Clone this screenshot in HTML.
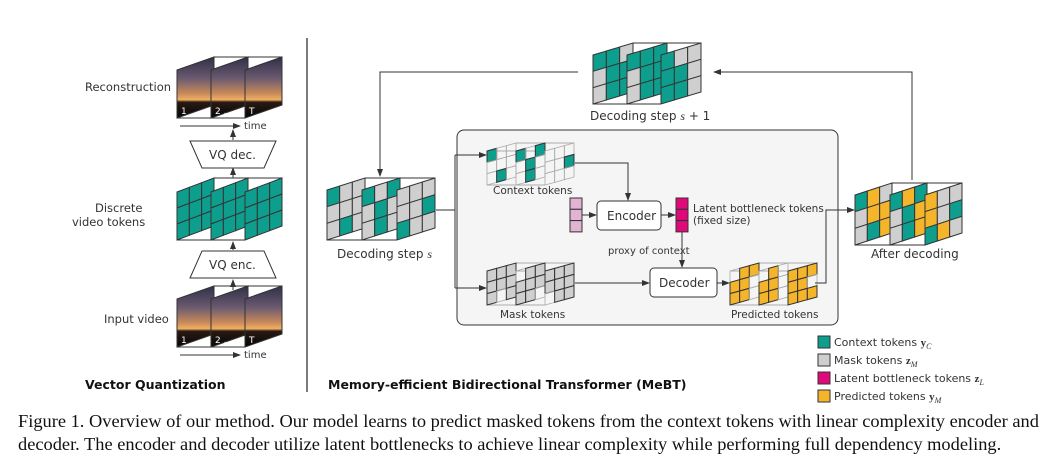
<!DOCTYPE html>
<html><head><meta charset="utf-8">
<style>
html,body{margin:0;padding:0;background:#fff;}
body{width:1056px;height:466px;overflow:hidden;position:relative;}
svg{position:absolute;left:0;top:0;}
.t{font-family:"DejaVu Sans","Liberation Sans",sans-serif;font-size:11.5px;fill:#333;}
.cap{position:absolute;left:18px;top:410px;width:1036px;font-family:"Liberation Serif",serif;font-size:18.4px;line-height:23px;color:#111;}
</style></head><body>
<svg id="s" width="1056" height="466" viewBox="0 0 1056 466" xmlns="http://www.w3.org/2000/svg">
<defs>
<linearGradient id="ph" x1="0" y1="0" x2="0" y2="1">
<stop offset="0" stop-color="#2f3048"/><stop offset="0.35" stop-color="#6a5a70"/>
<stop offset="0.6" stop-color="#c98a5a"/><stop offset="0.7" stop-color="#f0b060"/>
<stop offset="0.74" stop-color="#2a1a14"/><stop offset="1" stop-color="#050505"/>
</linearGradient>
<marker id="a" markerWidth="8" markerHeight="6" refX="7" refY="3" orient="auto" markerUnits="userSpaceOnUse"><path d="M0,0 L8,3 L0,6 z" fill="#333"/></marker>
</defs>
<line x1="307" y1="38" x2="307" y2="392" stroke="#222" stroke-width="1.2"/>
<rect x="457" y="130" width="381" height="195" rx="7" fill="#f4f5f4" stroke="#333" stroke-width="1"/>
<g id="g"></g>
<g stroke="#333" stroke-width="1" fill="none">
<line x1="180" y1="126" x2="240" y2="126" marker-end="url(#a)"/>
<line x1="233" y1="140" x2="233" y2="130" marker-end="url(#a)"/>
<line x1="233" y1="178" x2="233" y2="168" marker-end="url(#a)"/>
<line x1="233" y1="250" x2="233" y2="242" marker-end="url(#a)"/>
<line x1="233" y1="290" x2="233" y2="280" marker-end="url(#a)"/>
<line x1="180" y1="355" x2="240" y2="355" marker-end="url(#a)"/>
<polygon points="190,141 276,141 264,168 202,168" fill="#fff"/>
<polygon points="202,251 264,251 276,278 190,278" fill="#fff"/>
<polyline points="578,72 380,72 380,176" marker-end="url(#a)"/>
<polyline points="912,180 912,72 714,72" marker-end="url(#a)"/>
<polyline points="436,210 455,210"/>
<polyline points="455,155 455,288"/>
<line x1="455" y1="155" x2="486" y2="155" marker-end="url(#a)"/>
<line x1="455" y1="288" x2="486" y2="288" marker-end="url(#a)"/>
<polyline points="575,163 628,163 628,200" marker-end="url(#a)"/>
<line x1="582" y1="215" x2="596" y2="215" marker-end="url(#a)"/>
<line x1="661" y1="215" x2="675" y2="215" marker-end="url(#a)"/>
<line x1="682" y1="232" x2="682" y2="267" marker-end="url(#a)"/>
<line x1="575" y1="283" x2="649" y2="283" marker-end="url(#a)"/>
<line x1="717" y1="283" x2="729" y2="283" marker-end="url(#a)"/>
<polyline points="815,283 826,283 826,210 854,210" marker-end="url(#a)"/>
</g>
<rect x="597" y="201" width="64" height="29" rx="4" fill="#fff" stroke="#333"/>
<rect x="650" y="268" width="67" height="29" rx="4" fill="#fff" stroke="#333"/>
<g stroke="#333" stroke-width="1">
<rect x="570" y="198" width="12" height="11.3" fill="#e3b3d3"/><rect x="570" y="209.3" width="12" height="11.3" fill="#e3b3d3"/><rect x="570" y="220.6" width="12" height="11.3" fill="#e3b3d3"/>
<rect x="676" y="198" width="12" height="11.3" fill="#e0097a"/><rect x="676" y="209.3" width="12" height="11.3" fill="#e0097a"/><rect x="676" y="220.6" width="12" height="11.3" fill="#e0097a"/>
<rect x="818" y="336" width="12" height="12" fill="#0e9e8e"/>
<rect x="818" y="354" width="12" height="12" fill="#cfcfcf"/>
<rect x="818" y="372" width="12" height="12" fill="#e0097a"/>
<rect x="818" y="390" width="12" height="12" fill="#f5b52a"/>
</g>
<g class="t">
<text x="85" y="91">Reconstruction</text>
<text x="95" y="212">Discrete</text>
<text x="72" y="226">video tokens</text>
<text x="104" y="323">Input video</text>
<text x="244" y="129" font-size="10">time</text>
<text x="244" y="358" font-size="10">time</text>
<text x="209" y="159" font-size="12">VQ dec.</text>
<text x="209" y="269" font-size="12">VQ enc.</text>
<text x="590" y="120" font-size="12">Decoding step <tspan font-family="Liberation Serif" font-style="italic">s</tspan> + 1</text>
<text x="337" y="258" font-size="12">Decoding step <tspan font-family="Liberation Serif" font-style="italic">s</tspan></text>
<text x="493" y="194" font-size="10.5">Context tokens</text>
<text x="500" y="318" font-size="10.5">Mask tokens</text>
<text x="731" y="318" font-size="10.5">Predicted tokens</text>
<text x="607" y="220" font-size="12">Encoder</text>
<text x="659" y="287" font-size="12">Decoder</text>
<text x="608" y="254" font-size="10">proxy of context</text>
<text x="693" y="212" font-size="10.5">Latent bottleneck tokens</text>
<text x="693" y="224" font-size="10.5">(fixed size)</text>
<text x="871" y="258" font-size="12">After decoding</text>
<text x="834" y="346" font-size="11">Context tokens <tspan font-family="Liberation Serif" font-weight="bold">y</tspan><tspan font-family="Liberation Serif" font-style="italic" font-size="8" dy="3">C</tspan></text>
<text x="834" y="364" font-size="11">Mask tokens <tspan font-family="Liberation Serif" font-weight="bold">z</tspan><tspan font-family="Liberation Serif" font-style="italic" font-size="8" dy="3">M</tspan></text>
<text x="834" y="382" font-size="11">Latent bottleneck tokens <tspan font-family="Liberation Serif" font-weight="bold">z</tspan><tspan font-family="Liberation Serif" font-style="italic" font-size="8" dy="3">L</tspan></text>
<text x="834" y="400" font-size="11">Predicted tokens <tspan font-family="Liberation Serif" font-weight="bold">y</tspan><tspan font-family="Liberation Serif" font-style="italic" font-size="8" dy="3">M</tspan></text>
<text x="85" y="389" font-size="12.5" font-weight="bold" fill="#111">Vector Quantization</text>
<text x="328" y="389" font-size="12.5" font-weight="bold" fill="#111">Memory-efficient Bidirectional Transformer (MeBT)</text>
</g>
</svg>
<div class="cap">Figure 1. Overview of our method. Our model learns to predict masked tokens from the context tokens with linear complexity encoder and decoder. The encoder and decoder utilize latent bottlenecks to achieve linear complexity while performing full dependency modeling.</div>
<script>
var g=document.getElementById('g'),NS='http://www.w3.org/2000/svg';
var C={T:'#0e9e8e',G:'#cfcfcf',O:'#f5b52a',W:'none'};
function el(t,a){var e=document.createElementNS(NS,t);for(var k in a)e.setAttribute(k,a[k]);g.appendChild(e);return e;}
function P(x,yb,w,h,d,u,v){return [x+w*u, yb-h*(1-v)-d*u];}
function stack(x0,yb,w,h,d,sp,pats,opt){
 opt=opt||{};var xl=x0+sp*2;
 var wc=opt.wire||'#333';
 el('line',{x1:x0+w,y1:yb-h-d,x2:xl+w,y2:yb-h-d,stroke:wc,'stroke-width':1});
 el('line',{x1:x0,y1:yb-h,x2:xl,y2:yb-h,stroke:wc,'stroke-width':1});
 el('line',{x1:x0,y1:yb,x2:xl,y2:yb,stroke:wc,'stroke-width':1});
 for(var f=0;f<3;f++){var x=x0+sp*f;
  if(opt.photo){var pts=[P(x,yb,w,h,d,0,1),P(x,yb,w,h,d,0,0),P(x,yb,w,h,d,1,0),P(x,yb,w,h,d,1,1)];
   el('polygon',{points:pts.join(' '),fill:'url(#ph)',stroke:'#333'});
   var tx=el('text',{x:x+4,y:yb-4,fill:'#fff','font-size':9,'font-family':'DejaVu Sans'});tx.textContent=['1','2  ...','T'][f];continue;}
  for(var r=0;r<3;r++)for(var c=0;c<3;c++){var ch=pats[f][r][c];
   var q=[P(x,yb,w,h,d,c/3,r/3),P(x,yb,w,h,d,(c+1)/3,r/3),P(x,yb,w,h,d,(c+1)/3,(r+1)/3),P(x,yb,w,h,d,c/3,(r+1)/3)];
   if(ch=='W'){el('polygon',{points:q.join(' '),fill:'none',stroke:'#aaa','stroke-width':0.8});}
   else el('polygon',{points:q.join(' '),fill:C[ch],stroke:'#333','stroke-width':1});}
 }
}
function p(s){return s.split('|').map(function(f){return f.split('/').map(function(r){return r.split('');});});}
stack(177,118,37,48,13,34,null,{photo:1});
stack(177,347,37,48,13,34,null,{photo:1});
stack(177,240,37,48,14,34,p('TTT/TTT/TTT|TTT/TTT/TTT|TTT/TTT/TTT'));
stack(593,104,40,49,12,34,p('TTG/GTT/GTT|TTT/GTT/GTT|TGG/TTG/TTG'));
stack(327,240,38,50,12,35,p('TGG/GGG/GTG|TGT/GTG/GTG|GGG/GGT/TGG'));
stack(855,245,37,50,12,35,p('TOG/GOO/GTO|TOT/GTO/GTO|OGG/OGT/TOG'));
stack(487,185,29,34,8,29,p('TWW/WWW/WTW|TWT/WTW/WTW|WWW/WWT/WWW'),{wire:'#aaa'});
stack(487,305,29,34,8,29,p('GGG/GGG/GWG|WGG/GGG/GGW|GGG/GGG/WGG'),{wire:'#aaa'});
stack(730,305,29,34,8,29,p('WOO/OOW/OOW|WOW/OOW/OOW|OOO/OOW/OOO'),{wire:'#aaa'});
</script>
</body></html>
